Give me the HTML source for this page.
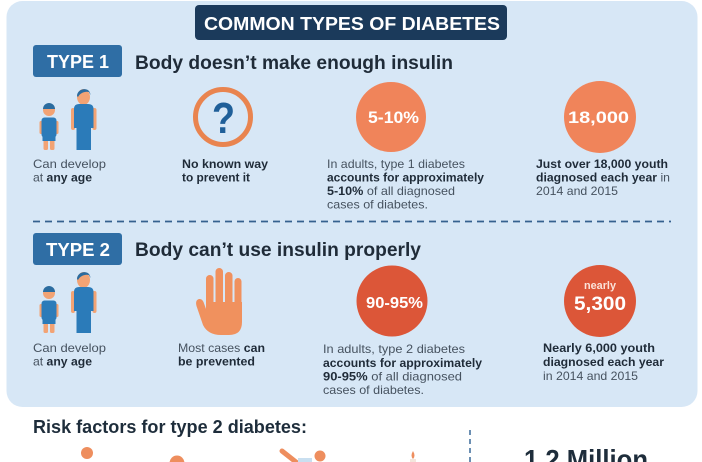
<!DOCTYPE html>
<html><head><meta charset="utf-8">
<style>
html,body{margin:0;padding:0;background:#fff;}
svg{display:block;}
text{font-family:"Liberation Sans",Arial,sans-serif;}
.g{fill:#46525f;font-size:12px;}
.b{font-weight:bold;fill:#1f2b38;}
</style></head>
<body>
<svg width="702" height="462" viewBox="0 0 702 462" xmlns="http://www.w3.org/2000/svg">
<rect x="0" y="0" width="702" height="462" fill="#ffffff"/>
<rect x="6.5" y="1" width="691" height="406" rx="16" fill="#d7e7f6"/>

<!-- Title -->
<rect x="195" y="5" width="312" height="35" rx="4" fill="#1b3a5b"/>
<text x="204" y="30" font-size="18" font-weight="bold" fill="#fff" textLength="296" lengthAdjust="spacingAndGlyphs">COMMON TYPES OF DIABETES</text>

<!-- TYPE 1 -->
<rect x="33" y="45" width="89" height="32" rx="3" fill="#2f6ea5"/>
<text x="47" y="68" font-size="18" font-weight="bold" fill="#fff" textLength="62" lengthAdjust="spacingAndGlyphs">TYPE 1</text>
<text x="135" y="69" font-size="19" font-weight="bold" fill="#1f2b38" textLength="318" lengthAdjust="spacingAndGlyphs">Body doesn’t make enough insulin</text>

<!-- people row 1 -->
<g id="people">
  <!-- child -->
  <rect x="39.5" y="121" width="3.5" height="13" rx="1.5" fill="#f2a374"/>
  <rect x="55" y="121" width="3.5" height="13" rx="1.5" fill="#f2a374"/>
  <rect x="43.5" y="135" width="4.5" height="15" rx="1.5" fill="#f2a374"/>
  <rect x="50" y="135" width="4.5" height="15" rx="1.5" fill="#f2a374"/>
  <circle cx="49" cy="110" r="6" fill="#f2a374"/>
  <path d="M43 109 a6 6 0 0 1 12 0 z" fill="#2b6c9f"/>
  <rect x="41.5" y="117.5" width="15" height="20" rx="3" fill="#2b7bb9"/>
  <rect x="42.5" y="136" width="13" height="5" fill="#2b7bb9"/>
  <!-- adult -->
  <rect x="71" y="108" width="4" height="22" rx="2" fill="#f2a374"/>
  <rect x="92.5" y="108" width="4" height="22" rx="2" fill="#f2a374"/>
  <ellipse cx="83.5" cy="97" rx="6.5" ry="8" fill="#f2a374"/>
  <path d="M77 96 C77 88 90 86 90.5 95 L89 92 C85 91 80 93 78 97 Z" fill="#2b6c9f"/>
  <path d="M74 109 Q74 104 79 104 L88 104 Q93.5 104 93.5 109 L93.5 128 L91 128 L91 150 L76.5 150 L76.5 128 L74 128 Z" fill="#2b7bb9"/>
</g>
<use href="#people" transform="translate(0,183)"/>

<!-- question -->
<circle cx="223" cy="117" r="27.5" fill="none" stroke="#e9844f" stroke-width="5"/>
<text x="212" y="133" font-size="44" font-weight="bold" fill="#1f5f99" textLength="23" lengthAdjust="spacingAndGlyphs">?</text>

<!-- circles row 1 -->
<circle cx="391" cy="117" r="35" fill="#f0845a"/>
<text x="368" y="123" font-size="17" font-weight="bold" fill="#fff" textLength="51" lengthAdjust="spacingAndGlyphs">5-10%</text>
<circle cx="600" cy="117" r="36" fill="#f0845a"/>
<text x="568" y="123" font-size="17" font-weight="bold" fill="#fff" textLength="61" lengthAdjust="spacingAndGlyphs">18,000</text>

<!-- text row 1 -->
<text class="g" x="33" y="168" textLength="73" lengthAdjust="spacingAndGlyphs">Can develop</text>
<text class="g" x="33" y="181.5" textLength="59" lengthAdjust="spacingAndGlyphs">at <tspan class="b">any age</tspan></text>
<text class="g b" x="182" y="168" textLength="86" lengthAdjust="spacingAndGlyphs">No known way</text>
<text class="g b" x="182" y="181.5" textLength="68" lengthAdjust="spacingAndGlyphs">to prevent it</text>
<text class="g" x="327" y="168" textLength="138" lengthAdjust="spacingAndGlyphs">In adults, type 1 diabetes</text>
<text class="g b" x="327" y="181.5" textLength="157" lengthAdjust="spacingAndGlyphs">accounts for approximately</text>
<text class="g" x="327" y="195" textLength="128" lengthAdjust="spacingAndGlyphs"><tspan class="b">5-10%</tspan> of all diagnosed</text>
<text class="g" x="327" y="208.5" textLength="101" lengthAdjust="spacingAndGlyphs">cases of diabetes.</text>
<text class="g b" x="536" y="168" textLength="132" lengthAdjust="spacingAndGlyphs">Just over 18,000 youth</text>
<text class="g" x="536" y="181.5" textLength="134" lengthAdjust="spacingAndGlyphs"><tspan class="b">diagnosed each year</tspan> in</text>
<text class="g" x="536" y="195" textLength="82" lengthAdjust="spacingAndGlyphs">2014 and 2015</text>

<!-- dashed divider -->
<line x1="33" y1="221.5" x2="671" y2="221.5" stroke="#35618f" stroke-width="1.8" stroke-dasharray="7 5"/>

<!-- TYPE 2 -->
<rect x="33" y="233" width="89" height="32" rx="3" fill="#2f6ea5"/>
<text x="46" y="256" font-size="18" font-weight="bold" fill="#fff" textLength="64" lengthAdjust="spacingAndGlyphs">TYPE 2</text>
<text x="135" y="256" font-size="19" font-weight="bold" fill="#1f2b38" textLength="286" lengthAdjust="spacingAndGlyphs">Body can’t use insulin properly</text>

<!-- hand -->
<g fill="#f0915e">
  <rect x="206" y="275" width="7.5" height="34" rx="3.7"/>
  <rect x="215.5" y="268" width="7.5" height="40" rx="3.7"/>
  <rect x="225" y="272" width="7.5" height="36" rx="3.7"/>
  <rect x="234.5" y="278" width="7" height="32" rx="3.5"/>
  <path d="M206 302 L242 302 L242 322 Q242 335 229 335 L221 335 Q208 335 203 325 L196.5 306 Q195 300 199 299 Q202 298.5 203.5 302 L206 309 Z"/>
</g>
<g fill="#d7e7f6">
  <rect x="213.5" y="283" width="2" height="19"/>
  <rect x="223" y="283" width="2" height="19"/>
  <rect x="232.5" y="285" width="2" height="17"/>
</g>

<!-- circles row 2 -->
<circle cx="392" cy="301" r="35.5" fill="#dc5638"/>
<text x="366" y="308" font-size="16" font-weight="bold" fill="#fff" textLength="57" lengthAdjust="spacingAndGlyphs">90-95%</text>
<circle cx="600" cy="301" r="36" fill="#dc5638"/>
<text x="584" y="289" font-size="11" font-weight="bold" fill="#fbe3da" textLength="32" lengthAdjust="spacingAndGlyphs">nearly</text>
<text x="574" y="310" font-size="19" font-weight="bold" fill="#fff" textLength="52" lengthAdjust="spacingAndGlyphs">5,300</text>

<!-- text row 2 -->
<text class="g" x="33" y="352" textLength="73" lengthAdjust="spacingAndGlyphs">Can develop</text>
<text class="g" x="33" y="365.5" textLength="59" lengthAdjust="spacingAndGlyphs">at <tspan class="b">any age</tspan></text>
<text class="g" x="178" y="352" textLength="87" lengthAdjust="spacingAndGlyphs">Most cases <tspan class="b">can</tspan></text>
<text class="g b" x="178" y="365.5" textLength="77" lengthAdjust="spacingAndGlyphs">be prevented</text>
<text class="g" x="323" y="353" textLength="142" lengthAdjust="spacingAndGlyphs">In adults, type 2 diabetes</text>
<text class="g b" x="323" y="367" textLength="159" lengthAdjust="spacingAndGlyphs">accounts for approximately</text>
<text class="g" x="323" y="380.5" textLength="139" lengthAdjust="spacingAndGlyphs"><tspan class="b">90-95%</tspan> of all diagnosed</text>
<text class="g" x="323" y="394" textLength="101" lengthAdjust="spacingAndGlyphs">cases of diabetes.</text>
<text class="g b" x="543" y="352" textLength="112" lengthAdjust="spacingAndGlyphs">Nearly 6,000 youth</text>
<text class="g b" x="543" y="366" textLength="121" lengthAdjust="spacingAndGlyphs">diagnosed each year</text>
<text class="g" x="543" y="380" textLength="95" lengthAdjust="spacingAndGlyphs">in 2014 and 2015</text>

<!-- bottom section -->
<text x="33" y="433" font-size="18" font-weight="bold" fill="#1e2d3b" textLength="274" lengthAdjust="spacingAndGlyphs">Risk factors for type 2 diabetes:</text>
<line x1="470" y1="430" x2="470" y2="462" stroke="#3a6a9a" stroke-width="1.5" stroke-dasharray="5 4"/>
<text x="524" y="469" font-size="28" font-weight="bold" fill="#1e2d3b" textLength="124" lengthAdjust="spacingAndGlyphs">1.2 Million</text>

<g fill="#ee8e5e">
  <circle cx="87" cy="453" r="6"/>
  <circle cx="177" cy="463" r="7.5"/>
  <circle cx="320" cy="456" r="5.5"/>
  <path d="M413 451 Q416 456 413 459 Q410 456 413 451 Z"/>
</g>
<line x1="282" y1="451" x2="301" y2="466" stroke="#ee8e5e" stroke-width="5" stroke-linecap="round"/>
<rect x="298" y="458" width="14" height="5" fill="#c9dff0"/>
<rect x="410" y="459" width="6" height="4" fill="#f3e6dc"/>
</svg>
</body></html>
